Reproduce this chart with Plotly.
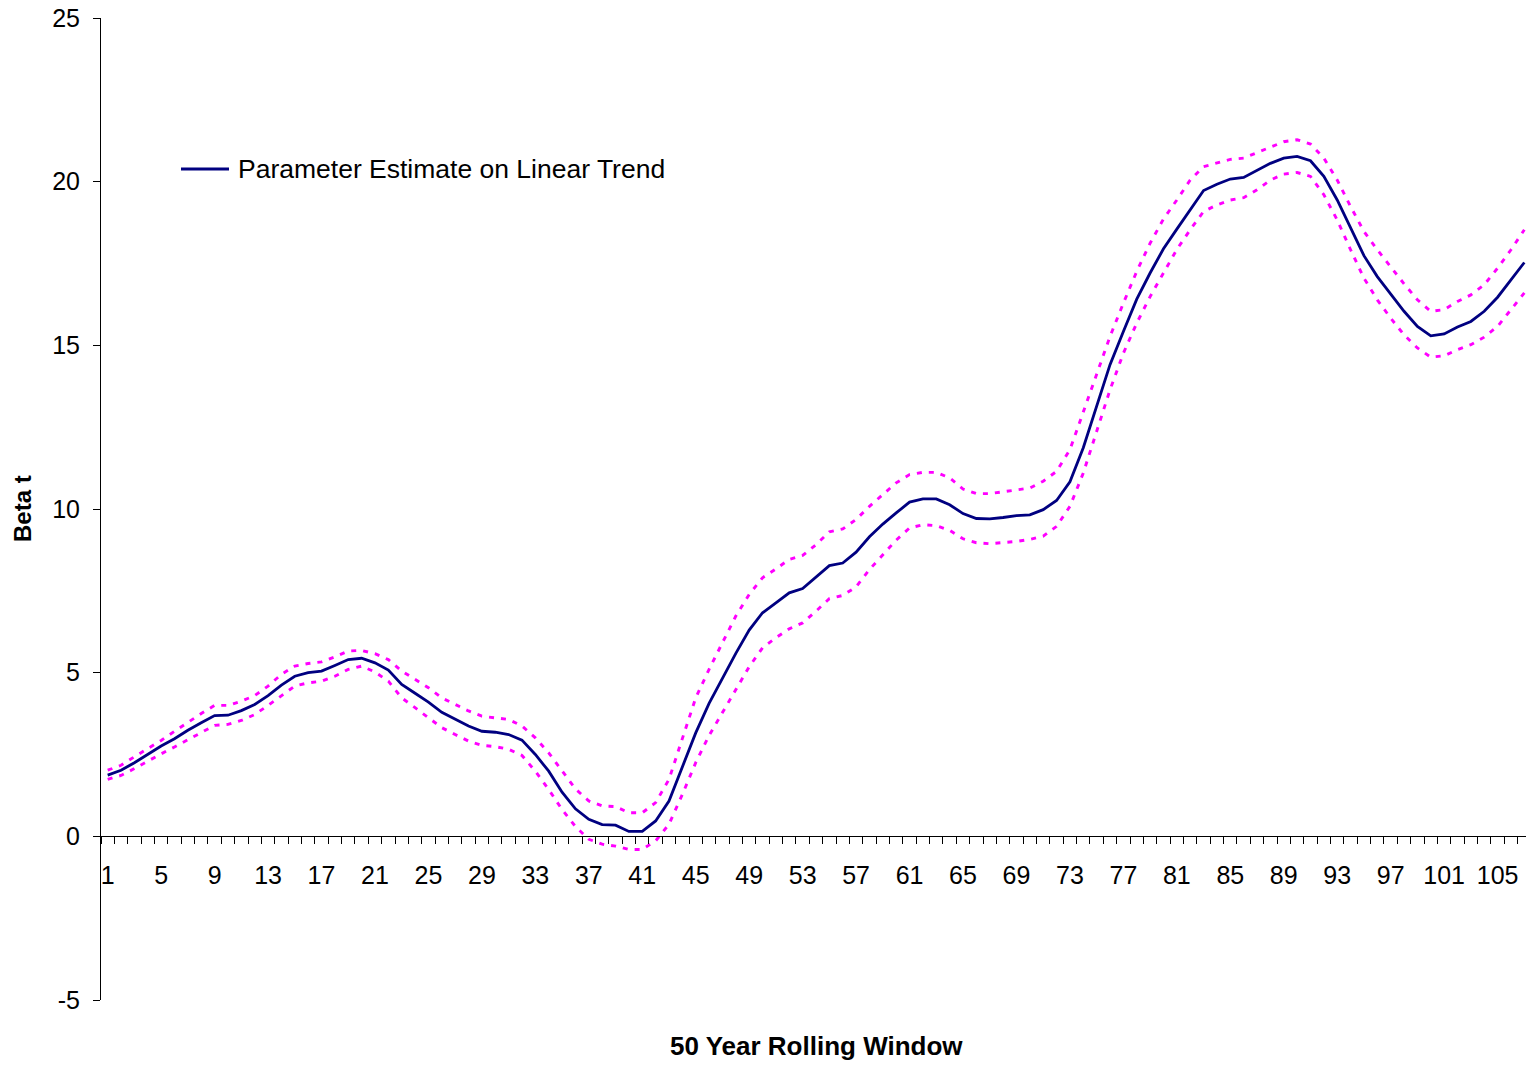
import plotly.graph_objects as go

windows = list(range(1, 108))

beta_t = [1.87, 2.02, 2.25, 2.50, 2.76, 2.98, 3.24, 3.47, 3.69, 3.70,
          3.84, 4.03, 4.30, 4.62, 4.89, 5.00, 5.05, 5.22, 5.40, 5.44,
          5.30, 5.08, 4.64, 4.37, 4.10, 3.79, 3.57, 3.37, 3.21, 3.18,
          3.11, 2.94, 2.50, 1.99, 1.35, 0.84, 0.52, 0.36, 0.34, 0.15,
          0.15, 0.47, 1.08, 2.10, 3.16, 4.06, 4.84, 5.59, 6.30, 6.83,
          7.13, 7.44, 7.57, 7.93, 8.27, 8.35, 8.68, 9.15, 9.54, 9.88,
          10.21, 10.31, 10.31, 10.13, 9.86, 9.71, 9.70, 9.74, 9.80, 9.82,
          9.98, 10.26, 10.83, 11.87, 13.14, 14.41, 15.42, 16.41, 17.21, 17.95,
          18.55, 19.16, 19.73, 19.92, 20.08, 20.13, 20.34, 20.56, 20.72, 20.77,
          20.64, 20.16, 19.44, 18.58, 17.74, 17.10, 16.57, 16.04, 15.58, 15.29,
          15.35, 15.56, 15.73, 16.04, 16.47, 17.00, 17.53]

upper = [2.02, 2.17, 2.43, 2.68, 2.93, 3.21, 3.49, 3.75, 4.00, 4.00,
         4.13, 4.30, 4.59, 4.95, 5.20, 5.28, 5.33, 5.48, 5.66, 5.68,
         5.58, 5.40, 5.05, 4.79, 4.54, 4.23, 4.03, 3.83, 3.67, 3.62,
         3.57, 3.37, 3.01, 2.55, 1.99, 1.45, 1.08, 0.93, 0.91, 0.72,
         0.72, 1.03, 1.74, 2.96, 4.23, 5.10, 5.91, 6.73, 7.39, 7.90,
         8.17, 8.46, 8.58, 8.91, 9.30, 9.39, 9.68, 10.08, 10.44, 10.80,
         11.05, 11.12, 11.12, 10.95, 10.61, 10.47, 10.47, 10.52, 10.57, 10.64,
         10.85, 11.15, 11.81, 12.98, 14.15, 15.27, 16.29, 17.26, 18.12, 18.86,
         19.44, 20.05, 20.46, 20.56, 20.68, 20.72, 20.89, 21.07, 21.22, 21.28,
         21.15, 20.72, 20.05, 19.24, 18.48, 17.92, 17.39, 16.88, 16.39, 16.04,
         16.09, 16.34, 16.54, 16.85, 17.36, 17.92, 18.53]

lower = [1.74, 1.86, 2.07, 2.30, 2.52, 2.73, 2.94, 3.17, 3.39, 3.42,
         3.54, 3.72, 4.00, 4.30, 4.59, 4.69, 4.74, 4.89, 5.10, 5.20,
         5.02, 4.74, 4.23, 3.93, 3.62, 3.32, 3.11, 2.91, 2.78, 2.74,
         2.66, 2.47, 1.99, 1.43, 0.82, 0.30, -0.09, -0.24, -0.30, -0.40,
         -0.40, -0.14, 0.37, 1.28, 2.25, 3.08, 3.78, 4.49, 5.18, 5.76,
         6.07, 6.34, 6.52, 6.88, 7.26, 7.36, 7.62, 8.15, 8.61, 9.05,
         9.42, 9.52, 9.49, 9.35, 9.09, 8.97, 8.94, 8.97, 9.01, 9.07,
         9.17, 9.47, 10.08, 11.10, 12.37, 13.64, 14.76, 15.68, 16.49, 17.23,
         17.93, 18.53, 19.09, 19.29, 19.44, 19.51, 19.75, 20.05, 20.23, 20.28,
         20.16, 19.60, 18.83, 17.92, 17.05, 16.39, 15.83, 15.32, 14.92, 14.64,
         14.68, 14.87, 15.02, 15.25, 15.58, 16.09, 16.60]

x_tick_labels = [str(v) for v in range(1, 108, 4)]
y_ticks = [-5, 0, 5, 10, 15, 20, 25]
y_tick_labels = ["-5", "0", "5", "10", "15", "20", "25"]
legend_label = "Parameter Estimate on Linear Trend"

FONT = "Liberation Sans, Arial, sans-serif"
NAVY = "#000080"
MAGENTA = "#FF00FF"

# page body has an 8px margin; figure is sized/margined so the plot area
# lands at x 101..1531, y 18..1000 in the 1534x1065 window
W, H = 1526, 1057
ML, MR, MT, MB = 93, 3, 10, 65
PW, PH = W - ML - MR, H - MT - MB


def px_x(px):
    return (px - 8 - ML) / PW


def px_y(py):
    return 1 - (py - 8 - MT) / PH


fig = go.Figure()
fig.add_trace(go.Scatter(x=windows, y=upper, mode="lines", showlegend=False,
                         line=dict(color=MAGENTA, width=2.9, dash="5px,7px")))
fig.add_trace(go.Scatter(x=windows, y=lower, mode="lines", showlegend=False,
                         line=dict(color=MAGENTA, width=2.9, dash="5px,7px")))
fig.add_trace(go.Scatter(x=windows, y=beta_t, mode="lines", showlegend=False,
                         name=legend_label,
                         line=dict(color=NAVY, width=2.8)))

boundaries = [b + 0.5 for b in range(0, 108)]

fig.update_layout(
    width=W, height=H,
    margin=dict(l=ML, r=MR, t=MT, b=MB, pad=0, autoexpand=False),
    paper_bgcolor="white", plot_bgcolor="white",
    font=dict(family=FONT, size=25, color="black"),
    showlegend=False,
    xaxis=dict(range=[0.5, 107.5], tickmode="array", automargin=False,
               tickvals=list(range(1, 108, 4)), ticktext=x_tick_labels,
               ticks="", showline=True, linecolor="black", linewidth=1,
               showgrid=False, zeroline=False, anchor="free", position=5 / 30,
               ticklabelstandoff=17, ticklabeloverflow="allow",
               minor=dict(tickmode="array", tickvals=boundaries, ticks="outside",
                          ticklen=7, tickcolor="black", tickwidth=1, showgrid=False)),
    yaxis=dict(range=[-5, 25], tickmode="array", tickvals=y_ticks,
               ticktext=y_tick_labels, automargin=False,
               ticks="outside", ticklen=7, tickcolor="black", tickwidth=1,
               showline=True, linecolor="black", linewidth=1,
               ticklabelstandoff=8, ticklabeloverflow="allow",
               showgrid=False, zeroline=False),
    shapes=[
        dict(type="line", xref="paper", yref="paper",
             x0=px_x(181), x1=px_x(229), y0=px_y(169), y1=px_y(169),
             line=dict(color=NAVY, width=2.8)),
    ],
    annotations=[
        dict(text=legend_label, xref="paper", yref="paper",
             x=px_x(236), y=px_y(169), xanchor="left", yanchor="middle",
             showarrow=False, font=dict(size=26.5, family=FONT)),
        dict(text="<b>50 Year Rolling Window</b>", xref="paper", yref="paper",
             x=px_x(816), y=px_y(1046), xanchor="center", yanchor="middle",
             showarrow=False, font=dict(size=26, family=FONT)),
        dict(text="<b>Beta t</b>", xref="paper", yref="paper",
             x=px_x(22), y=px_y(509), xanchor="center", yanchor="middle",
             textangle=-90, showarrow=False, font=dict(size=24, family=FONT)),
    ],
)

fig.write_html("out.html")
